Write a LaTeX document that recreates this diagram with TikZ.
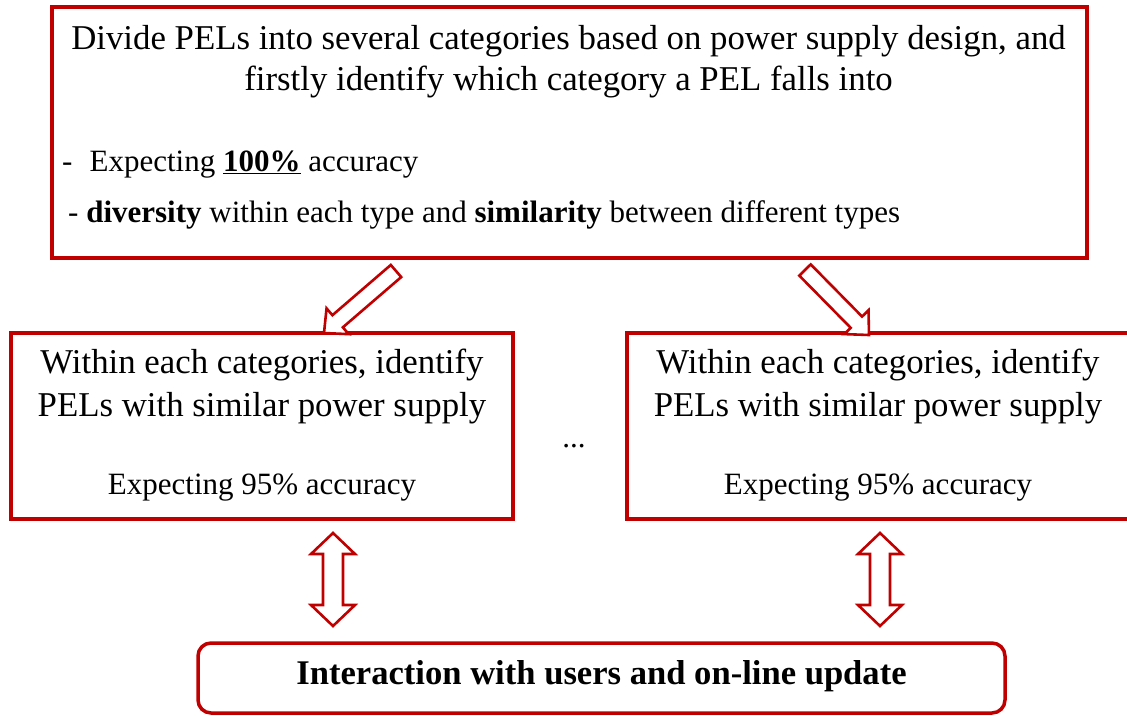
\documentclass[tikz,border=0pt]{standalone}
\usepackage{fontspec}
\setmainfont{Liberation Serif}
\usetikzlibrary{calc}

\definecolor{boxred}{HTML}{C00000}

\tikzset{
  frame/.style={draw=boxred, line width=3.5pt, rectangle, inner sep=0pt, outer sep=0pt, fill=white},
  roundframe/.style={frame, rounded corners=13pt},
  blockarrow/.style={draw=boxred, line width=2.6pt, fill=white, line join=miter},
  big/.style={font=\fontsize{34.8}{41}\selectfont, inner sep=0pt, anchor=base},
  small/.style={font=\fontsize{31}{37}\selectfont, inner sep=0pt, anchor=base},
}

% hollow arrow from #1 to #2 (shaft half-width 8pt, head half-width 17pt, head length 18pt)
\newcommand\hollowarrow[2]{%
  \draw[blockarrow]
    ($(#1)!8pt!90:(#2)$) --
    ($(#2)!18pt!(#1)!8pt!-90:(#1)$) --
    ($(#2)!18pt!(#1)!17pt!-90:(#1)$) --
    (#2) --
    ($(#2)!18pt!(#1)!17pt!90:(#1)$) --
    ($(#2)!18pt!(#1)!8pt!90:(#1)$) --
    ($(#1)!8pt!-90:(#2)$) -- cycle;}

% hollow two-headed arrow between #1 and #2
\newcommand\hollowdoublearrow[2]{%
  \draw[blockarrow]
    (#1) --
    ($(#1)!21pt!(#2)!22pt!90:(#2)$) --
    ($(#1)!21pt!(#2)!10pt!90:(#2)$) --
    ($(#2)!21pt!(#1)!10pt!-90:(#1)$) --
    ($(#2)!21pt!(#1)!22pt!-90:(#1)$) --
    (#2) --
    ($(#2)!21pt!(#1)!22pt!90:(#1)$) --
    ($(#2)!21pt!(#1)!10pt!90:(#1)$) --
    ($(#1)!21pt!(#2)!10pt!-90:(#2)$) --
    ($(#1)!21pt!(#2)!22pt!-90:(#2)$) -- cycle;}

\begin{document}
\begin{tikzpicture}[x=1pt, y=-1pt]
  \useasboundingbox (0,0) rectangle (1127,715);
  \clip (0,0) rectangle (1127,715);

  % boxes
  \node[frame, minimum width=1035pt, minimum height=251pt] (top) at (569.5,132.5) {};
  \node[frame, minimum width=502pt, minimum height=186pt] (left) at (262,426) {};
  \node[frame, minimum width=502pt, minimum height=186pt] (right) at (878,426) {};
  \node[roundframe, minimum width=807pt, minimum height=70pt] (bottom) at (601.5,678) {};

  % top box text
  \node[big] (t1) at (568.5,49) {Divide PELs into several categories based on power supply design, and};
  \node[big] (t2) at (568.5,90) {firstly identify which category a PEL falls into};
  \node[small, anchor=base west] (b1) at (62,171) {-\hspace{0.55em}Expecting \underline{\textbf{100\%}} accuracy};
  \node[small, anchor=base west] (b2) at (68,222) {- \textbf{diversity} within each type and \textbf{similarity} between different types};

  % left box text
  \node[big] (l1) at (262,373) {Within each categories, identify};
  \node[big] (l2) at (262,416) {PELs with similar power supply};
  \node[small] (l3) at (262,494) {Expecting 95\% accuracy};

  % right box text
  \node[big] (r1) at (878,373) {Within each categories, identify};
  \node[big] (r2) at (878,416) {PELs with similar power supply};
  \node[small] (r3) at (878,494) {Expecting 95\% accuracy};

  \node[small] (dots) at (574,447) {...};

  % bottom box text
  \node[big, font=\fontsize{34.6}{41}\selectfont\bfseries] (bt) at (601.5,684) {Interaction with users and on-line update};

  % arrow end points
  \coordinate (a1s) at (396,271);
  \coordinate (a1e) at (324,333);
  \coordinate (a2s) at (805,270);
  \coordinate (a2e) at (869,335);
  \coordinate (d1s) at (333,533);
  \coordinate (d1e) at (333,626);
  \coordinate (d2s) at (880,533);
  \coordinate (d2e) at (880,626);

  \hollowarrow{a1s}{a1e}
  \hollowarrow{a2s}{a2e}
  \hollowdoublearrow{d1s}{d1e}
  \hollowdoublearrow{d2s}{d2e}
\end{tikzpicture}
\end{document}
